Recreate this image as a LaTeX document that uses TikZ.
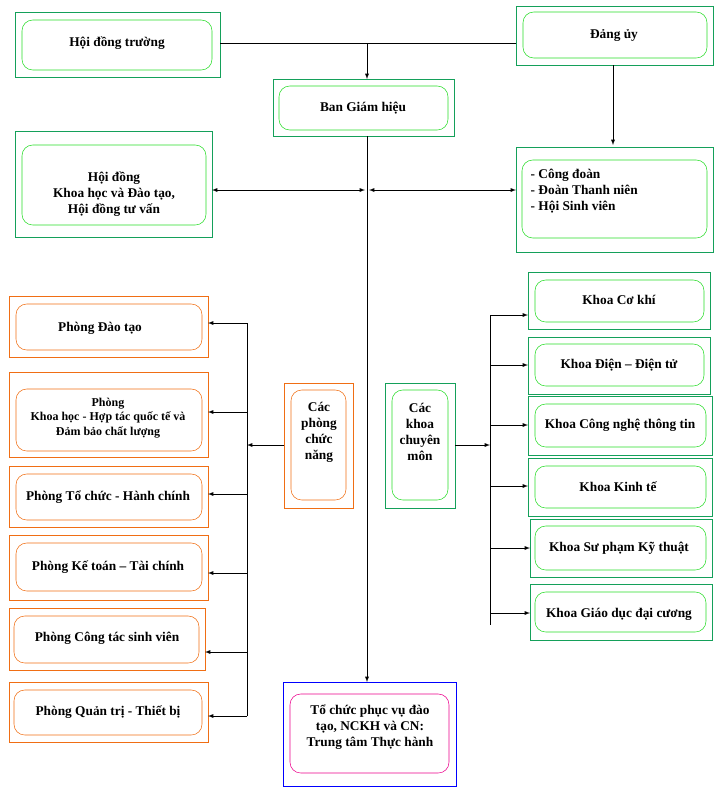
\documentclass[tikz,border=0pt]{standalone}
\usepackage{fontspec}
\setmainfont{Liberation Serif}
\definecolor{grn}{RGB}{20,160,90}
\definecolor{lgrn}{RGB}{40,220,40}
\definecolor{org}{RGB}{240,110,20}
\tikzset{
  outer/.style={draw=grn},
  inner/.style={draw=lgrn,rounded corners=8pt},
  outo/.style={draw=org},
  inno/.style={draw=org,rounded corners=8pt},
  lbl/.style={font=\bfseries\fontsize{10}{12}\selectfont,align=center},
  conn/.style={-latex,black},
}
\newcommand{\unitbox}[7]{% outer style, inner style, outer corners, inner corners, name, text
  \draw[#1] #3; \draw[#2] #4;
  \node[lbl] (#5) at #6 {#7};
}
\begin{document}
\begin{tikzpicture}[x=0.75pt,y=-0.75pt]
\useasboundingbox (0,0) rectangle (721,794);

% top level
\unitbox{outer}{inner}{(15,12) rectangle (220,77)}{(22,20) rectangle (212,70)}{hdt}{(117,43)}{Hội đồng trường}
\unitbox{outer}{inner}{(516,6) rectangle (713,65)}{(523,12) rectangle (707,58)}{du}{(614,35)}{Đảng ủy}
\unitbox{outer}{inner}{(273,79) rectangle (454,136)}{(279,86) rectangle (448,130)}{bgh}{(363,108)}{Ban Giám hiệu}
\unitbox{outer}{inner}{(15,131) rectangle (212,237)}{(22,145) rectangle (206,225)}{hdkh}{(114,194)}{Hội đồng\\Khoa học và Đào tạo,\\Hội đồng tư vấn}
\draw[outer] (516,147) rectangle (713,252); \draw[inner] (522,160) rectangle (707,238);
\node[lbl,align=left,anchor=west] (cd) at (526,191) {- Công đoàn\\- Đoàn Thanh niên\\- Hội Sinh viên};

% middle
\unitbox{outo}{inno}{(284,383) rectangle (353,508)}{(291,390) rectangle (346,500)}{cpcn}{(319,432)}{Các\\phòng\\chức\\năng}
\unitbox{outer}{inner}{(385,383) rectangle (455,508)}{(392,390) rectangle (448,500)}{ckcm}{(420,432)}{Các\\khoa\\chuyên\\môn}

% left column
\unitbox{outo}{inno}{(9,296) rectangle (208,357)}{(16,304) rectangle (202,350)}{pdt}{(100,328)}{Phòng Đào tạo}
\draw[outo] (9,372) rectangle (208,457); \draw[inno] (16,389) rectangle (202,451);
\node[lbl,font=\bfseries\fontsize{9}{11}\selectfont] (pkh) at (108,418) {Phòng\\Khoa học - Hợp tác quốc tế và\\Đảm bảo chất lượng};
\unitbox{outo}{inno}{(9,466) rectangle (208,527)}{(16,474) rectangle (202,520)}{ptc}{(108,497)}{Phòng Tổ chức - Hành chính}
\unitbox{outo}{inno}{(9,535) rectangle (208,600)}{(16,543) rectangle (202,591)}{pkt}{(108,567)}{Phòng Kế toán – Tài chính}
\unitbox{outo}{inno}{(9,608) rectangle (205,670)}{(14,616) rectangle (199,663)}{pctsv}{(107,638)}{Phòng Công tác sinh viên}
\unitbox{outo}{inno}{(9,682) rectangle (208,742)}{(14,690) rectangle (202,735)}{pqt}{(108,712)}{Phòng Quản trị - Thiết bị}

% right column
\unitbox{outer}{inner}{(528,272) rectangle (710,329)}{(535,280) rectangle (704,322)}{kck}{(619,300)}{Khoa Cơ khí}
\unitbox{outer}{inner}{(528,337) rectangle (710,394)}{(535,344) rectangle (704,386)}{kdt}{(619,365)}{Khoa Điện – Điện tử}
\unitbox{outer}{inner}{(528,396) rectangle (712,455)}{(535,404) rectangle (706,447)}{kcntt}{(620,425)}{Khoa Công nghệ thông tin}
\unitbox{outer}{inner}{(528,458) rectangle (712,516)}{(535,466) rectangle (706,508)}{kkt}{(618,487)}{Khoa Kinh tế}
\unitbox{outer}{inner}{(530,519) rectangle (712,577)}{(535,526) rectangle (706,570)}{ksp}{(619,548)}{Khoa Sư phạm Kỹ thuật}
\unitbox{outer}{inner}{(530,584) rectangle (712,640)}{(535,592) rectangle (706,632)}{kgd}{(619,614)}{Khoa Giáo dục đại cương}

% bottom
\unitbox{draw=blue}{draw=magenta,rounded corners=8pt}{(283,682) rectangle (456,786)}{(290,694) rectangle (449,773)}{ttth}{(370,727)}{Tổ chức phục vụ đào\\tạo, NCKH và CN:\\Trung tâm Thực hành}

% connector points
\coordinate (hdtR) at (220,43);
\coordinate (duL) at (516,43);
\coordinate (j1) at (367,43);
\coordinate (bghT) at (367,79);
\coordinate (duB) at (613,65);
\coordinate (cdT) at (613,145);
\coordinate (bghB) at (367,136);
\coordinate (ttT) at (367,682);
\coordinate (hdkhR) at (212,190);
\coordinate (m1) at (365,190);
\coordinate (m2) at (369,190);
\coordinate (cdL) at (516,190);
\coordinate (lbT) at (247,323);
\coordinate (lbB) at (247,716);
\coordinate (lbM) at (247,445);
\coordinate (cpL) at (284,445);
\coordinate (ckR) at (455,445);
\coordinate (rbM) at (490,445);
\coordinate (rbT) at (490,315);
\coordinate (rbB) at (490,625);

\draw (hdtR) -- (duL);
\draw[conn] (j1) -- (bghT);
\draw[conn] (duB) -- (cdT);
\draw[conn] (bghB) -- (ttT);
\draw[latex-latex] (hdkhR) -- (m1);
\draw[latex-latex] (m2) -- (cdL);

% left bus
\draw (lbT) -- (lbB);
\draw[conn] (cpL) -- (lbM);
\foreach \y/\x in {323/208,412/208,494/208,573/208,652/205,716/208}
  \draw[conn] (247,\y) -- (\x,\y);

% right bus
\draw (rbT) -- (rbB);
\draw[conn] (ckR) -- (rbM);
\foreach \y/\x in {315/528,365/528,425/528,486/528,548/530,613/530}
  \draw[conn] (490,\y) -- (\x,\y);
\end{tikzpicture}
\end{document}
